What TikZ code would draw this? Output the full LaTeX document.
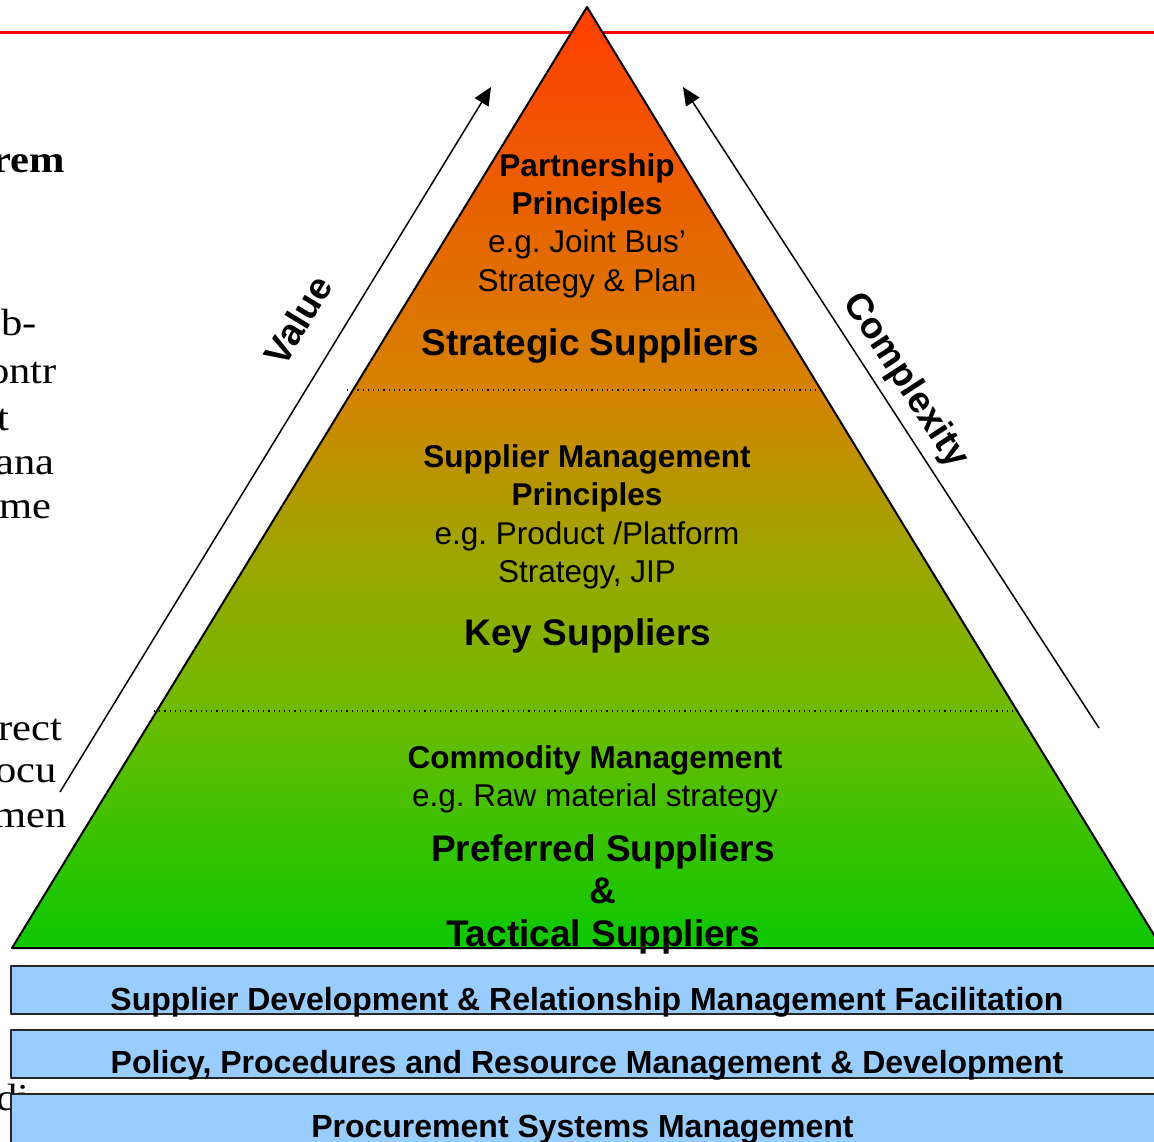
\documentclass[tikz,border=0pt]{standalone}
\usepackage{fontspec}
\setmainfont{Liberation Sans}
\newfontfamily\slidefont[FakeStretch=1.12]{Liberation Serif}
\usetikzlibrary{arrows.meta}
\frenchspacing

\definecolor{pyrtop}{RGB}{255,62,0}
\definecolor{pyrorange}{RGB}{212,131,0}
\definecolor{pyrolive}{RGB}{158,165,0}
\definecolor{pyrlime}{RGB}{108,187,0}
\definecolor{pyrbottom}{RGB}{12,200,0}
\definecolor{barblue}{RGB}{153,204,255}

% tiers run from green at the base to red-orange at the apex
\pgfdeclareverticalshading{pyramid}{100bp}{color(0bp)=(pyrbottom); color(25bp)=(pyrbottom);
  color(37.5bp)=(pyrlime); color(46bp)=(pyrolive); color(54.5bp)=(pyrorange);
  color(75bp)=(pyrtop); color(100bp)=(pyrtop)}

\tikzset{
every picture/.style={line join=round, x=0.5pt, y=-0.5pt},
%%%%%%%%%% pyramid
tier/.style={draw=black, line width=1pt, shading=pyramid},
tierline/.style={dotted, line width=0.6pt},
%%%%%%%%%% arrows along the sides
trend/.style={line width=0.75pt, -{Triangle[length=9pt,width=8pt]}},
trendlabel/.style={font=\bfseries\fontsize{18.5}{22}\selectfont},
%%%%%%%%%% texts
head/.style={align=center, font=\bfseries\fontsize{15.75}{19.25}\selectfont},
example/.style={align=center, font=\fontsize{15.75}{19.25}\selectfont},
tiername/.style={align=center, font=\bfseries\fontsize{18.5}{21.25}\selectfont},
bar/.style={draw=black!85, line width=1pt, fill=barblue},
bartext/.style={anchor=base, font=\bfseries\fontsize{16}{19}\selectfont},
margintext/.style={anchor=base east, inner sep=0pt,
                   font=\slidefont\fontsize{19}{22}\selectfont},
}

\begin{document}
\begin{tikzpicture}
\clip (0,0) rectangle (1154,1141);
\fill[white] (0,0) rectangle (1154,1141);

\draw[red, line width=1.5pt] (0,32) -- (1154,32);

%% slide text behind the pyramid
\node[margintext, font=\slidefont\bfseries\fontsize{19}{22}\selectfont] (mRem) at (65,172) {rem};
\node[margintext] (mSub) at (37,335) {ub-};
\node[margintext] (mContr) at (57,383) {ontr};
\node[margintext] (mT) at (10,430) {t};
\node[margintext] (mAna) at (55,474) {ana};
\node[margintext] (mMe) at (52,518) {me};
\node[margintext] (mRect) at (63,740) {rect};
\node[margintext] (mOcu) at (57,782) {ocu};
\node[margintext] (mMen) at (67,827) {men};
\node[margintext] (mDi) at (30,1110) {di};

%% value / complexity
\coordinate (valueFoot) at (60,792);
\coordinate (valueTip) at (491,87);
\coordinate (cplxFoot) at (1099,728);
\coordinate (cplxTip) at (683,87);
\draw[trend] (valueFoot) -- (valueTip);
\draw[trend] (cplxFoot) -- (cplxTip);
\node[trendlabel, rotate=58.6] (value) at (298,320) {Value};
\node[trendlabel, rotate=-57] (cplx) at (905,381) {Complexity};

%% the pyramid
\coordinate (apex) at (587,7);
\coordinate (baseL) at (12,948);
\coordinate (baseR) at (1162,948);
\draw[tier] (apex) -- (baseR) -- (baseL) -- cycle;
\draw[tierline] (347,390) -- (825,390);
\draw[tierline] (154,711) -- (1016,711);

\node[head] (topHead) at (587,187.5) {Partnership\\Principles};
\node[example] (topEg) at (587,264) {e.g. Joint Bus'\\Strategy \& Plan};
\node[tiername] (topName) at (590,346.5) {Strategic Suppliers};

\node[head] (midHead) at (587,478.5) {Supplier Management\\Principles};
\node[example] (midEg) at (587,555.5) {e.g. Product /Platform\\Strategy, JIP};
\node[tiername] (midName) at (588,635.5) {Key Suppliers};

\node[head] (lowHead) at (595,760.5) {Commodity Management};
\node[example] (lowEg) at (595,798.5) {e.g. Raw material strategy};
\node[tiername] (lowName) at (603,894) {Preferred Suppliers\\\&\\Tactical Suppliers};

%% foundation bars
\draw[bar] (11,966) rectangle (1170,1014);
\draw[bar] (11,1030) rectangle (1170,1078);
\draw[bar] (11,1094) rectangle (1170,1160);
\node[bartext] (barDev) at (587,1010) {Supplier Development \& Relationship Management Facilitation};
\node[bartext] (barPolicy) at (587,1073) {Policy, Procedures and Resource Management \& Development};
\node[bartext] (barSys) at (582.5,1137) {Procurement Systems Management};
\end{tikzpicture}
\end{document}
